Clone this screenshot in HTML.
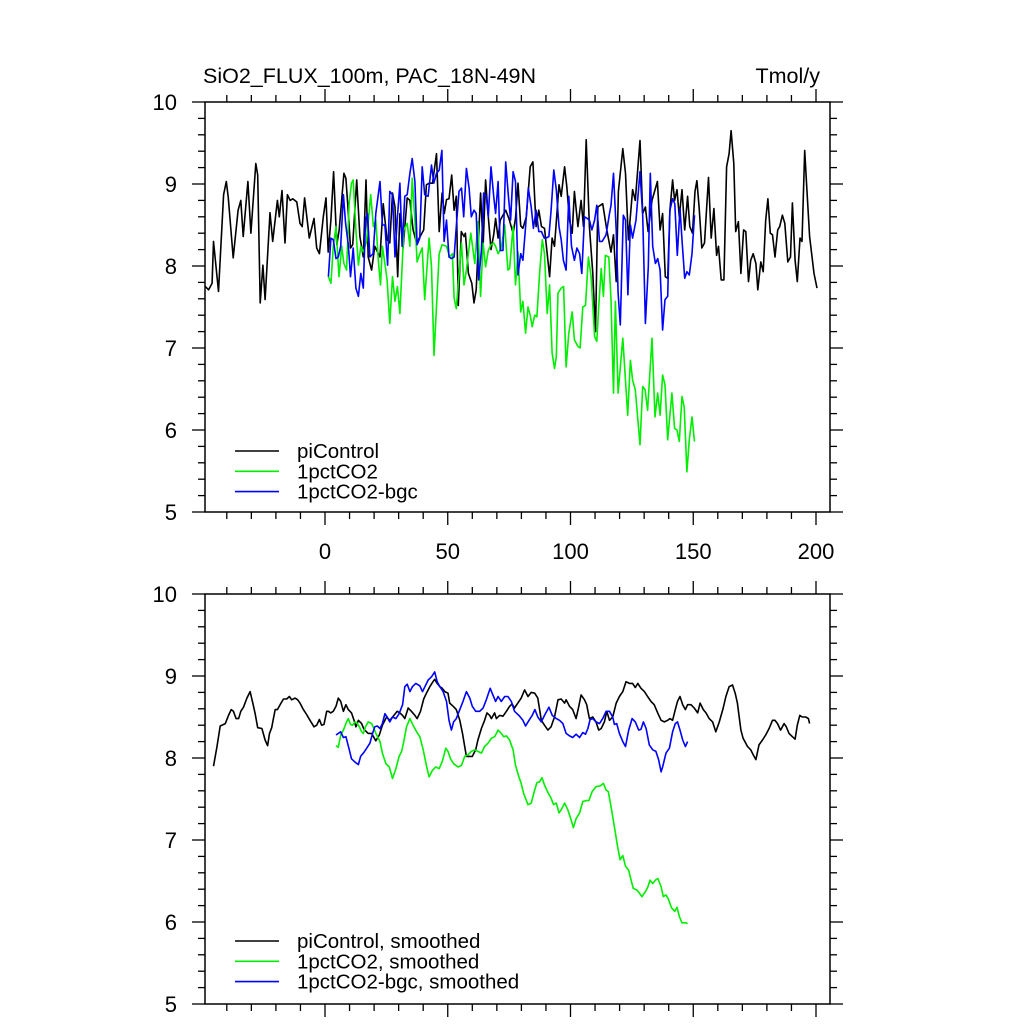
<!DOCTYPE html>
<html><head><meta charset="utf-8"><style>
html,body{margin:0;padding:0;background:#fff}
svg{display:block;font-family:"Liberation Sans",Arial,sans-serif}
</style></head><body>
<svg id="chart" width="1024" height="1024" viewBox="0 0 1024 1024">
<defs>
<clipPath id="clipTop"><rect x="205" y="102" width="625" height="410"/></clipPath>
<clipPath id="clipBot"><rect x="205" y="594" width="625" height="410"/></clipPath>
</defs>
<text x="203" y="83" font-size="21.5">SiO2_FLUX_100m, PAC_18N-49N</text>
<text x="820" y="83" font-size="21.5" text-anchor="end">Tmol/y</text>
<g id="top"></g>
<g id="bot"></g>
</svg>
<script>
// ---- data: top panel ----
const piTopYears=[-48.8,-47.4,-46,-45.4,-43.4,-41.3,-40.2,-39.4,-37.4,-35.4,-34.3,-33.3,-31.4,-30.2,-28.2,-27.4,-26.4,-25.3,-24.4,-22.4,-21.3,-19.4,-18.6,-17.5,-16.3,-15.3,-14.2,-13.1,-11.5,-10.2,-9.3,-8.3,-6.4,-4.5,-3.4,-2.3,-0.7,0.4,1.3,2.4,3.5,4.8,5.8,7.7,8.5,9.6,10.4,11.3,12.9,14.2,15.6,16.7,17.6,19,20.3,22.4,23.7,25.3,26.4,27.5,28.5,29.6,30.5,31.8,33.5,34.6,35.9,
37.3,40.2,41.3,42.4,43.8,45.4,46.5,47.7,48.6,49.5,50.5,51.6,52.6,53.5,54.3,55.5,56.6,57.2,58.4,59.8,60.7,61.6,63.4,64.4,65.4,66.5,67.6,68.7,69.5,70.5,71.4,73.6,74.9,76.6,77.6,78.6,79.7,80.6,82,83.6,84.7,86,87.1,88.2,89.4,91.5,92.5,93.5,95.3,96.2,97.6,98.5,99.6,100.7,101.6,103,104.3,105.3,106.4,107.7,109.1,110.2,111.1,
113.1,114.8,116.5,117.5,118.6,119.5,121.3,122.4,123.6,125.3,126.4,128.3,129.4,130.5,131.6,133.2,135.4,136.5,137.5,138.6,139.6,140.5,141.6,142.4,143.4,144.3,145.4,146.5,147.7,148.6,149.7,150.7,151.5,152.4,153.5,154.6,156.2,157.3,158.4,159.5,160.3,161.4,162.5,163.6,164.6,165.4,166.5,167.3,168.4,169.4,170.5,171.4,172.5,173.4,174.4,175.5,176.3,177.5,178.5,179.5,180.4,181.4,182.3,183.3,184.4,185.2,186.3,187.3,188.5,189.6,190.4,191.5,192.4,193.5,194.3,195.4,196.3,197.4,199.2,200.4];
const piTopValues=[7.75,7.71,7.79,8.30,7.69,8.87,9.03,8.83,8.10,8.68,8.80,8.36,9.03,8.40,9.25,9.11,7.55,8.01,7.59,8.65,8.30,8.80,8.60,8.92,8.28,8.87,8.80,8.82,8.78,8.52,8.48,8.83,8.34,8.58,8.22,8.15,8.60,8.83,8.17,8.56,9.15,8.26,8.44,9.13,9.07,8.60,8.22,8.26,9.05,8.36,8.11,9.05,8.11,7.95,8.24,8.11,8.76,8.32,8.28,8.89,8.72,7.87,8.64,8.22,8.83,8.80,8.44,
8.28,8.44,8.99,9.01,9.01,9.37,8.42,8.89,8.64,8.81,8.82,9.11,8.68,8.85,7.52,8.42,8.36,8.40,7.91,7.79,7.55,7.71,8.89,8.24,9.05,8.60,8.20,8.38,8.58,8.34,8.56,8.68,8.58,8.40,8.58,9.01,8.49,8.46,8.60,9.21,9.27,8.48,8.68,8.48,8.46,7.87,8.34,8.24,8.99,8.85,9.21,8.97,8.56,8.40,8.91,8.48,8.80,8.48,9.54,8.48,7.91,7.20,8.72,
8.76,8.44,8.17,8.38,7.81,8.91,9.43,9.13,8.32,8.93,8.80,9.53,8.64,8.72,8.42,8.80,9.03,8.44,8.64,7.87,7.85,8.68,9.05,8.80,8.93,8.60,8.93,8.44,8.85,8.48,8.40,8.91,9.04,8.72,8.22,8.28,9.08,8.34,8.70,8.13,8.24,7.83,7.83,9.21,9.37,9.65,9.25,8.42,8.54,7.91,8.44,8.42,7.81,8.07,8.15,8.03,7.71,8.05,7.93,8.56,8.82,8.40,8.38,8.11,8.44,8.48,8.62,8.52,8.05,8.11,8.77,8.07,7.81,8.34,8.30,9.41,8.93,8.36,7.91,7.73];
const co2TopYears=[1.4,2.4,3.4,4.5,5.7,6.8,7.7,8.8,9.8,10.8,11.5,12.6,13.6,14.6,15.6,16.9,18.6,19.7,20.7,21.7,22.6,23.4,24.4,25.3,26.4,27.5,28.5,29.5,30.5,32.1,33.5,34.6,35.5,36.6,37.5,38.6,
39.6,40.6,42.4,43.4,44.4,46.5,47.7,49.5,50.8,51.9,52.6,53.5,55.6,56.6,57.6,59.4,61.0,62.3,63.4,64.4,65.4,66.5,67.6,68.7,69.5,70.5,71.8,73.2,74.5,75.2,76.6,77.6,78.6,79.7,80.6,81.7,82.7,83.6,84.4,85.4,86.3,87.4,88.5,89.4,90.5,91.5,92.5,93.5,94.2,94.9,96.2,97.2,98.2,99.3,100.7,101.6,103.0,103.9,105.0,106.1,107.3,108.4,109.8,110.7,111.5,112.5,113.4,114.2,115.6,116.5,
117.5,118.3,119.4,121.3,123.3,124.4,125.3,126.4,128.3,129.4,130.4,131.4,133.2,134.4,135.5,136.5,137.5,138.5,139.6,141.3,142.4,143.4,144.3,145.4,146.3,147.4,148.4,149.5,150.5];
const co2TopValues=[7.87,7.79,8.24,8.48,7.87,8.24,8.03,7.95,8.76,9.01,9.05,8.44,8.01,8.24,8.17,8.30,8.87,8.48,8.56,8.07,7.77,8.24,8.03,7.83,7.30,7.87,7.57,7.75,7.42,8.44,8.52,8.24,9.07,8.56,8.05,8.15,
8.22,7.59,8.34,7.99,6.91,8.15,8.26,8.24,8.11,8.15,7.61,7.48,8.28,7.77,7.95,8.40,8.03,8.54,7.63,8.28,7.99,8.19,8.26,8.28,8.24,8.15,8.22,8.50,7.95,7.97,8.48,7.77,8.17,7.44,7.57,7.18,7.50,7.40,7.26,7.40,7.38,7.91,8.32,8.15,7.42,7.77,6.94,6.75,6.89,7.67,7.73,7.75,6.77,7.18,7.44,7.10,7.02,7.00,7.50,7.52,8.11,7.87,7.14,7.08,7.50,7.97,7.63,8.13,8.11,7.59,
6.45,7.57,6.45,7.12,6.18,6.85,6.61,6.49,5.82,6.53,6.49,6.24,7.12,6.16,6.45,6.18,6.67,6.55,5.88,6.45,6.02,6.00,5.86,6.41,6.28,5.49,5.88,6.16,5.86];
const bgcTopYears=[1.4,2.4,3.4,4.5,5.4,6.4,7.5,8.4,9.5,10.4,11.5,12.6,13.6,14.6,15.6,16.5,17.3,18.3,19.6,20.7,22.4,23.4,24.4,25.5,26.4,27.5,28.5,29.4,30.5,31.4,32.5,33.5,34.6,35.5,36.6,37.5,38.6,
39.6,40.6,42.0,43.4,44.3,45.4,46.5,47.6,48.5,49.5,50.5,51.5,52.6,53.5,54.6,55.6,56.5,57.6,58.7,59.6,60.7,61.6,62.6,63.7,64.6,65.7,66.5,67.6,68.7,69.5,70.5,71.4,72.5,73.6,74.7,75.6,76.6,77.6,78.6,79.7,80.6,81.7,82.8,84.0,84.9,86.0,87.1,88.2,89.3,90.1,91.2,92.1,93.2,94.2,95.3,96.2,97.1,98.2,99.3,100.4,101.6,102.6,103.7,104.6,105.7,106.8,107.7,108.7,109.8,110.7,
111.8,112.9,114.5,115.9,116.5,117.5,118.6,119.4,120.3,121.5,122.4,123.4,124.4,125.3,126.7,128.3,129.4,130.5,131.7,132.5,133.5,134.6,135.5,136.5,137.5,138.5,139.6,140.5,141.6,142.5,143.5,144.6,145.4,146.5,147.4,148.4,149.5,150.5];
const bgcTopValues=[7.87,8.34,8.32,8.09,8.11,8.24,8.87,8.52,8.26,7.87,8.22,7.73,7.63,7.91,7.73,8.56,8.64,8.11,8.15,8.64,9.03,8.50,8.50,8.01,8.91,8.87,8.11,8.56,9.01,8.24,8.85,8.87,9.13,9.31,9.03,8.26,8.34,
9.21,8.87,8.85,9.23,9.01,9.13,9.17,9.41,8.30,8.56,8.11,8.09,8.11,8.48,8.91,8.95,8.60,9.19,8.95,8.60,8.68,8.64,7.83,8.19,8.89,8.85,8.60,9.21,8.85,8.64,9.03,8.19,8.19,9.27,8.85,8.56,9.15,9.03,7.89,8.15,8.07,8.48,8.95,8.72,8.46,8.68,8.42,8.42,8.34,8.34,8.36,8.68,9.17,8.93,8.48,8.32,8.07,7.95,8.85,8.24,8.07,8.22,8.15,7.91,8.60,8.58,8.56,8.44,8.56,8.74,
8.30,8.30,8.38,8.64,8.74,9.13,8.44,7.67,7.28,8.62,8.56,7.65,8.50,8.34,8.56,9.15,8.62,7.30,7.99,9.13,8.24,8.03,8.09,7.95,7.22,7.59,7.63,8.68,8.82,8.76,8.13,8.70,8.32,7.85,7.93,7.89,8.15,8.62];
// ---- data: bottom panel (smoothed) ----
const piBotYears=[-45.4,-44.0,-42.7,-40.6,-39.3,-38.2,-37.3,-36.2,-35.2,-34.3,-33.2,-31.8,-30.5,-29.4,-28.5,-27.4,-25.7,-24.4,-23.4,-22.6,-21.7,-21.0,-20.3,-19.4,-18.3,-16.9,-15.6,-14.5,-13.6,-12.2,-11.1,-10.2,-8.8,-7.5,-6.1,-4.5,-3.4,-2.3,-1.4,-0.4,0.7,1.4,2.3,3.4,4.5,5.4,6.4,7.5,8.5,9.5,10.8,11.8,12.6,13.6,14.9,15.9,17.6,19.0,20.7,22.1,23.4,25.1,26.4,27.8,29.4,30.5,31.6,32.5,33.9,35.2,36.6,37.5,38.9,40.2,41.3,42.7,44.0,44.7,45.7,46.8,47.8,48.8,50.1,50.8,52.2,53.5,54.9,56.0,56.9,57.6,59.0,60.0,61.4,62.3,63.7,65.0,66.0,67.1,67.8,69.1,69.8,71.1,72.5,73.9,75.2,76.2,77.2,
79.9,81.3,82.7,84.0,85.4,86.7,88.1,89.4,90.8,92.1,93.5,94.9,96.2,97.6,98.2,99.6,100.9,102.3,103.4,104.3,105.7,106.6,107.7,109.1,110.4,111.5,112.5,113.8,114.8,115.9,117.2,118.6,119.9,121.3,122.6,124.0,125.3,126.4,127.4,128.7,130.1,131.4,132.8,134.1,135.5,136.9,138.2,139.6,140.5,141.6,142.7,143.6,144.6,145.7,146.8,147.7,149.1,150.4,151.8,152.8,154.1,155.2,156.5,157.9,159.2,160.6,162.2,163.3,164.6,166.0,167.1,168.0,169.4,170.3,172.1,173.4,174.4,175.5,176.8,178.2,179.5,180.9,182.3,183.3,184.3,185.6,187.0,187.9,189.0,190.4,191.5,192.4,193.4,194.4,195.8,196.9,197.4];
const piBotValues=[7.90,8.14,8.39,8.42,8.52,8.59,8.57,8.48,8.48,8.57,8.62,8.73,8.81,8.67,8.55,8.37,8.36,8.22,8.15,8.30,8.37,8.48,8.59,8.59,8.65,8.72,8.72,8.75,8.71,8.73,8.71,8.67,8.59,8.53,8.46,8.38,8.40,8.47,8.40,8.41,8.57,8.57,8.55,8.57,8.63,8.73,8.69,8.57,8.65,8.59,8.55,8.46,8.38,8.46,8.42,8.35,8.30,8.30,8.21,8.28,8.40,8.50,8.46,8.51,8.57,8.55,8.52,8.48,8.61,8.57,8.52,8.48,8.57,8.72,8.79,8.87,8.93,8.96,8.91,8.87,8.85,8.81,8.79,8.67,8.63,8.59,8.46,8.30,8.14,8.02,8.02,8.02,8.10,8.22,8.36,8.46,8.55,8.52,8.48,8.55,8.48,8.52,8.51,8.57,8.63,8.66,8.61,
8.73,8.83,8.75,8.80,8.79,8.73,8.46,8.40,8.34,8.38,8.50,8.71,8.72,8.67,8.71,8.63,8.59,8.48,8.63,8.77,8.71,8.65,8.48,8.50,8.44,8.34,8.36,8.44,8.57,8.46,8.50,8.67,8.75,8.81,8.93,8.91,8.91,8.86,8.91,8.85,8.81,8.75,8.69,8.65,8.55,8.46,8.44,8.46,8.48,8.46,8.59,8.69,8.75,8.65,8.59,8.65,8.65,8.61,8.55,8.67,8.59,8.55,8.48,8.44,8.32,8.44,8.61,8.75,8.87,8.89,8.79,8.67,8.34,8.24,8.14,8.10,8.04,7.98,8.16,8.22,8.28,8.36,8.46,8.46,8.42,8.34,8.42,8.38,8.30,8.26,8.23,8.40,8.52,8.50,8.50,8.48,8.42];
const co2BotYears=[4.5,5.4,6.4,7.5,8.8,9.5,10.4,11.2,12.2,12.9,14.0,14.9,15.6,16.5,17.6,19.0,19.9,21.0,22.4,23.4,24.8,26.2,27.5,28.9,30.2,31.2,32.1,33.2,34.6,35.9,37.3,38.6,40.0,41.3,42.4,43.8,45.1,46.5,47.8,49.2,50.1,51.1,52.4,54.2,55.6,56.9,58.3,59.6,61.0,62.3,63.7,65.0,66.4,67.8,69.1,70.5,71.8,72.8,73.9,75.2,76.6,77.6,79.0,
79.9,80.9,82.7,84.0,85.4,86.3,87.4,88.4,89.4,90.8,92.1,93.1,94.2,95.3,96.2,97.6,98.9,100.3,101.2,102.3,103.7,105.0,106.4,107.5,108.8,110.4,112.1,113.4,114.5,115.4,116.5,117.9,119.2,120.2,121.3,122.4,123.7,124.7,125.6,127.0,128.1,129.1,130.5,131.4,132.4,133.5,134.6,135.6,136.9,137.8,138.9,140.0,141.2,142.5,143.4,144.3,145.4,147.0,147.7];
const co2BotValues=[8.15,8.13,8.28,8.34,8.44,8.48,8.41,8.40,8.44,8.43,8.38,8.32,8.30,8.38,8.44,8.42,8.36,8.28,8.20,8.06,7.93,7.89,7.75,7.87,8.02,8.08,8.20,8.38,8.48,8.40,8.32,8.26,8.10,7.91,7.77,7.85,7.89,7.87,7.96,8.12,8.08,7.99,7.93,7.89,7.91,8.02,8.04,8.08,8.10,8.08,8.06,8.14,8.18,8.24,8.26,8.34,8.30,8.26,8.27,8.22,8.10,7.91,7.77,
7.69,7.57,7.43,7.45,7.61,7.70,7.71,7.76,7.67,7.58,7.51,7.43,7.45,7.33,7.37,7.45,7.37,7.24,7.15,7.26,7.33,7.47,7.48,7.48,7.59,7.65,7.66,7.69,7.61,7.59,7.41,7.16,6.92,6.76,6.81,6.68,6.63,6.51,6.41,6.39,6.35,6.31,6.37,6.42,6.51,6.47,6.51,6.53,6.43,6.31,6.33,6.27,6.17,6.13,6.18,6.07,5.99,5.99,5.98];
const bgcBotYears=[4.5,6.4,7.5,8.5,9.9,10.8,12.2,13.6,14.5,15.9,17.0,18.3,19.4,20.3,21.3,22.4,23.4,24.4,25.3,26.4,27.5,28.9,30.2,31.6,32.5,33.5,34.6,35.6,37.0,38.6,39.7,40.7,42.0,43.4,44.7,45.7,46.8,48.1,49.5,50.5,51.5,52.4,53.5,54.9,56.2,57.6,59.0,60.0,61.4,63.0,64.4,65.7,67.3,68.4,69.5,70.5,71.8,73.2,74.5,75.9,77.2,79.0,
80.6,81.7,83.1,84.4,85.5,86.7,88.1,89.4,91.2,92.6,94.2,95.5,96.9,98.2,99.6,100.9,102.3,103.7,105.0,106.1,107.1,108.0,109.1,110.4,111.8,113.1,114.5,115.9,117.2,117.9,118.8,119.9,121.3,122.4,123.7,125.1,126.4,127.8,128.7,129.7,130.8,132.1,133.5,134.8,135.9,136.9,137.5,138.9,140.3,141.6,142.7,143.6,144.6,145.7,146.8,147.7];
const bgcBotValues=[8.28,8.32,8.25,8.26,8.10,7.99,7.95,7.92,8.02,8.07,8.12,8.18,8.30,8.38,8.39,8.36,8.42,8.54,8.50,8.44,8.50,8.48,8.54,8.65,8.87,8.90,8.81,8.87,8.91,8.88,8.81,8.87,8.95,8.99,9.05,8.93,8.87,8.81,8.69,8.46,8.34,8.44,8.48,8.59,8.69,8.81,8.73,8.63,8.57,8.57,8.61,8.71,8.85,8.77,8.69,8.75,8.69,8.75,8.75,8.69,8.57,8.52,
8.46,8.39,8.46,8.52,8.59,8.50,8.44,8.52,8.62,8.52,8.48,8.46,8.42,8.30,8.27,8.25,8.29,8.25,8.31,8.29,8.36,8.47,8.48,8.44,8.42,8.48,8.57,8.57,8.50,8.41,8.42,8.30,8.20,8.14,8.34,8.48,8.44,8.34,8.35,8.44,8.36,8.16,8.10,8.08,7.98,7.83,7.89,8.06,8.12,8.32,8.42,8.44,8.34,8.22,8.14,8.20];
const yTicks=[5,6,7,8,9,10];
const xTickLabels=[0,50,100,150,200];
const topLegend=["piControl","1pctCO2","1pctCO2-bgc"];
const botLegend=["piControl, smoothed","1pctCO2, smoothed","1pctCO2-bgc, smoothed"];
const colors=["#000000","#00ee00","#0000ff"];

// ---- layout ----
const L=205,R=830,H=410;
const xs=y=>325+2.455*y;
const NS="http://www.w3.org/2000/svg";
function mk(tag,attrs,parent){const e=document.createElementNS(NS,tag);for(const k in attrs)e.setAttribute(k,attrs[k]);parent.appendChild(e);return e;}

function panel(g,top,clip,showX,series,legend,legY){
  const ys=v=>top+(10-v)*82;
  const sg=mk('g',{'clip-path':'url(#'+clip+')'},g);
  series.forEach((s,i)=>{
    const n=Math.min(s[0].length,s[1].length);
    let d='';
    for(let k=0;k<n;k++)d+=(k?'L':'M')+xs(s[0][k]).toFixed(1)+' '+ys(s[1][k]).toFixed(1);
    const p=mk('path',{d:d,fill:'none',stroke:colors[i],'stroke-width':1.6,'stroke-linejoin':'round'},sg);
    
    
  });
  const fr=mk('rect',{x:L,y:top,width:R-L,height:H,fill:'none',stroke:'#000','stroke-width':1.5},g);
  
  
  for(let v=5;v<=10.001;v+=0.2){
    const vv=Math.round(v*10)/10;const major=Math.abs(vv-Math.round(vv))<0.01;
    const len=major?13:7;const y=ys(vv);
    mk('line',{x1:L,x2:L-len,y1:y,y2:y,stroke:'#000','stroke-width':1.3},g);
    mk('line',{x1:R,x2:R+len,y1:y,y2:y,stroke:'#000','stroke-width':1.3},g);
  }
  yTicks.forEach(v=>{
    const t=mk('text',{x:177,y:ys(v)+8,'font-size':22,'text-anchor':'end'},g);
    t.textContent=v;
    
    
  });
  for(let yr=-40;yr<=200;yr+=10){
    const major=yr%50===0;const len=major?13:7;const x=xs(yr);
    mk('line',{x1:x,x2:x,y1:top+H,y2:top+H+len,stroke:'#000','stroke-width':1.3},g);
    mk('line',{x1:x,x2:x,y1:top,y2:top-len,stroke:'#000','stroke-width':1.3},g);
  }
  if(showX){
    xTickLabels.forEach(v=>{
      const t=mk('text',{x:xs(v),y:top+H+47,'font-size':22,'text-anchor':'middle'},g);
      t.textContent=v;
      
      
    });
  }
  legend.forEach((lab,i)=>{
    const y=legY+i*20.3;
    const ln=mk('line',{x1:235,x2:279,y1:y,y2:y,stroke:colors[i],'stroke-width':1.6},g);
    
    
    const t=mk('text',{x:297,y:y+7,'font-size':20.5},g);
    t.textContent=lab;
    
    
  });
}
panel(document.getElementById('top'),102,'clipTop',true,
  [[piTopYears,piTopValues,'picontrol-line'],[co2TopYears,co2TopValues,'1pctco2-line'],[bgcTopYears,bgcTopValues,'1pctco2-bgc-line']],topLegend,451);
panel(document.getElementById('bot'),594,'clipBot',false,
  [[piBotYears,piBotValues,'picontrol-smoothed-line'],[co2BotYears,co2BotValues,'1pctco2-smoothed-line'],[bgcBotYears,bgcBotValues,'1pctco2-bgc-smoothed-line']],botLegend,941);
</script>
</body></html>
